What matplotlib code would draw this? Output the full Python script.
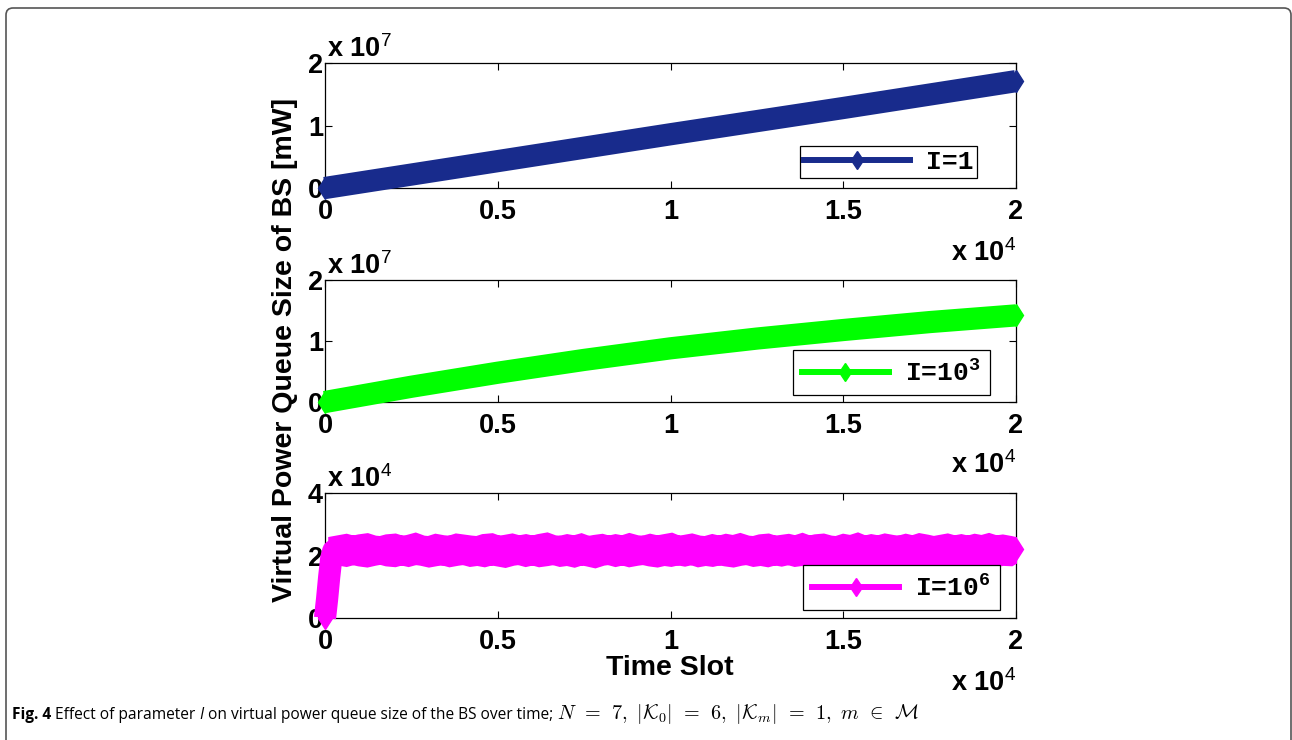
import numpy as np
import matplotlib
matplotlib.use("Agg")
import matplotlib.pyplot as plt
from matplotlib.lines import Line2D
from matplotlib.patches import FancyBboxPatch

plt.rcParams['font.family'] = ['Liberation Sans', 'DejaVu Sans']
plt.rcParams['mathtext.fontset'] = 'custom'
plt.rcParams['mathtext.rm'] = 'Liberation Sans'
plt.rcParams['mathtext.tt'] = 'Liberation Mono:bold'

# ---- data ----
# I = 1 : linear growth, values in units of 1e7 mW
t_i1 = [0, 5000, 10000, 15000, 20000]
q_i1 = [0.0, 0.43, 0.86, 1.28, 1.71]

# I = 10^3 : slightly concave growth, units of 1e7 mW
t_i3 = [0, 2500, 5000, 7500, 10000, 12500, 15000, 17500, 20000]
q_i3 = [0.0, 0.25, 0.48, 0.69, 0.88, 1.04, 1.18, 1.31, 1.42]

# I = 10^6 : fast rise, units of 1e4 mW
t_i6_rise = [0, 60, 120, 180, 240, 300, 400]
q_i6_rise = [0.0, 0.6, 1.3, 1.9, 2.15, 2.18, 2.18]
# then a fast oscillation; upper / lower envelope every 200 slots from slot 400
q_i6_upper = [
    2.31, 2.35, 2.29, 2.34, 2.37, 2.30, 2.28, 2.34, 2.36, 2.29,
    2.32, 2.38, 2.30, 2.28, 2.35, 2.31, 2.29, 2.36, 2.33, 2.30,
    2.28, 2.35, 2.37, 2.29, 2.32, 2.36, 2.30, 2.34, 2.29, 2.35,
    2.39, 2.31, 2.29, 2.34, 2.30, 2.36, 2.28, 2.32, 2.35, 2.29,
    2.34, 2.30, 2.37, 2.31, 2.29, 2.35, 2.30, 2.34, 2.38, 2.29,
    2.32, 2.36, 2.30, 2.28, 2.34, 2.29, 2.35, 2.31, 2.37, 2.30,
    2.28, 2.34, 2.36, 2.29, 2.32, 2.35, 2.30, 2.37, 2.29, 2.34,
    2.36, 2.30, 2.28, 2.35, 2.31, 2.38, 2.29, 2.34, 2.30, 2.36,
    2.32, 2.29, 2.35, 2.30, 2.37, 2.33, 2.28, 2.32, 2.36, 2.30,
    2.34, 2.29, 2.35, 2.31, 2.37, 2.30, 2.33, 2.29, 2.24,
]
q_i6_lower = [
    2.05, 2.01, 2.07, 2.02, 1.99, 2.04, 2.08, 2.02, 2.00, 2.06,
    2.01, 2.07, 2.04, 1.99, 2.03, 2.06, 2.00, 2.04, 2.07, 2.01,
    2.04, 2.00, 2.06, 2.02, 1.98, 2.04, 2.07, 2.01, 2.06, 2.00,
    2.03, 2.07, 2.01, 2.04, 1.99, 2.06, 2.02, 1.97, 2.04, 2.07,
    2.01, 2.06, 2.00, 2.04, 2.07, 2.02, 1.99, 2.04, 2.01, 2.06,
    2.02, 2.07, 2.00, 2.04, 2.01, 2.06, 2.02, 1.99, 2.04, 2.07,
    2.01, 2.04, 2.00, 2.06, 2.02, 2.07, 2.01, 2.04, 1.99, 2.06,
    2.02, 2.00, 2.06, 2.01, 2.04, 2.07, 2.00, 2.03, 2.06, 2.01,
    2.04, 2.00, 2.07, 2.02, 1.99, 2.04, 2.01, 2.06, 2.02, 2.00,
    2.04, 2.07, 2.01, 2.03, 2.06, 2.00, 2.04, 2.03, 2.16,
]
t_i6_env = 400 + 200 * np.arange(len(q_i6_upper))
t_i6_end, q_i6_end = 20000, 2.20

xticks = [0, 5000, 10000, 15000, 20000]
xticklabels = ['0', '0.5', '1', '1.5', '2']

W, H = 1292, 740
fig = plt.figure(figsize=(W / 100, H / 100), dpi=100)

fs_tick = 19.5
fs_lab = 20.5
band_lw = 16
band_ms = 11.5

specs = [
    dict(color='#182b8c', label='I=1', ymax=2e7, yticks=[0, 1e7, 2e7],
         ylabs=['0', '1', '2'], exp='7', rect=[325, 63, 1016, 188],
         leg=(0.944, 0.08), bpad=0.15, hlen=4.0),
    dict(color='#00ff00', label=r'I=10$^{\mathtt{3}}$', ymax=2e7, yticks=[0, 1e7, 2e7],
         ylabs=['0', '1', '2'], exp='7', rect=[325, 280, 1016, 402],
         leg=(0.962, 0.057), bpad=0.35, hlen=3.3),
    dict(color='#ff00ff', label=r'I=10$^{\mathtt{6}}$', ymax=4e4, yticks=[0, 2e4, 4e4],
         ylabs=['0', '2', '4'], exp='4', rect=[325, 493, 1016, 618],
         leg=(0.977, 0.064), bpad=0.35, hlen=3.3),
]

axes = []
for p in specs:
    x0, y0, x1, y1 = p['rect']
    ax = fig.add_axes([x0 / W, 1 - y1 / H, (x1 - x0) / W, (y1 - y0) / H])
    axes.append(ax)
    ax.set_xlim(0, 20000)
    ax.set_ylim(0, p['ymax'])
    ax.set_xticks(xticks)
    ax.set_xticklabels(xticklabels, fontweight='bold')
    ax.set_yticks(p['yticks'])
    ax.set_yticklabels(p['ylabs'], fontweight='bold')
    ax.tick_params(direction='in', length=5, width=0.8, top=True, right=True,
                   labelsize=fs_tick, color='black')
    ax.tick_params(axis='x', pad=8)
    ax.tick_params(axis='y', pad=1.5)
    for s in ax.spines.values():
        s.set_linewidth(0.9)
    ax.text(0.003, 1.048, r'x 10$^{\mathrm{%s}}$' % p['exp'], transform=ax.transAxes,
            ha='left', va='baseline', fontsize=fs_tick, fontweight='bold')
    ax.text(1.0, -0.584, r'x 10$^{\mathrm{4}}$', transform=ax.transAxes,
            ha='right', va='baseline', fontsize=fs_tick, fontweight='bold')

ax1, ax2, ax3 = axes

# panel 1 and 2: thick lines with diamond end markers
ax1.plot(t_i1, np.array(q_i1) * 1e7, color=specs[0]['color'], lw=band_lw,
         solid_capstyle='butt', marker='d', ms=band_ms, markevery=[0, -1],
         clip_on=False, zorder=3)
ax2.plot(t_i3, np.array(q_i3) * 1e7, color=specs[1]['color'], lw=band_lw,
         solid_capstyle='butt', solid_joinstyle='round', marker='d', ms=band_ms,
         markevery=[0, -1], clip_on=False, zorder=3)

# panel 3: rise, then oscillating band
c3 = specs[2]['color']
ax3.plot(t_i6_rise, np.array(q_i6_rise) * 1e4, color=c3, lw=band_lw,
         solid_capstyle='butt', solid_joinstyle='round', marker='d', ms=band_ms,
         markevery=[0], clip_on=False, zorder=3)
ax3.fill_between(t_i6_env, np.array(q_i6_lower) * 1e4, np.array(q_i6_upper) * 1e4,
                 facecolor=c3, edgecolor=c3, lw=band_lw, joinstyle='miter', zorder=3)
ax3.plot([t_i6_end], [q_i6_end * 1e4], color=c3, marker='d', ms=band_ms,
         lw=0, clip_on=False, zorder=4)

for ax, p in zip(axes, specs):
    handle = Line2D([], [], color=p['color'], lw=4.3, marker='d', ms=9.5)
    leg = ax.legend([handle], [p['label']], loc='lower right',
                    bbox_to_anchor=p['leg'], borderaxespad=0, fancybox=False,
                    framealpha=1, edgecolor='black', handlelength=p['hlen'],
                    handletextpad=0.6, borderpad=p['bpad'],
                    prop={'family': 'Liberation Mono', 'weight': 'bold', 'size': 19})
    leg.get_frame().set_linewidth(0.9)
    leg.set_zorder(10)

fig.text(285 / W, 1 - 350 / H, 'Virtual Power Queue Size of BS [mW]',
         rotation=90, ha='center', va='center', fontsize=fs_lab, fontweight='bold')
fig.text(670 / W, 1 - 675 / H, 'Time Slot', ha='center', va='baseline',
         fontsize=fs_lab, fontweight='bold')

# caption, laid out piece by piece
pieces = [
    ('Fig. 4', dict(fontweight='bold', fontsize=11.2)),
    (' Effect of parameter ', dict(fontsize=11.2)),
    ('I', dict(fontstyle='italic', fontsize=11.2)),
    (' on virtual power queue size of the BS over time; ', dict(fontsize=11.2)),
    (r'$N\;\,=\;\,7,\ |\mathcal{K}_0|\;\,=\;\,6,\ |\mathcal{K}_m|\;\,=\;\,1,'
     r'\ m\;\,\in\;\,\mathcal{M}$',
     dict(math_fontfamily='cm', fontsize=14.5)),
]
renderer = fig.canvas.get_renderer()
xpix = 12
for txt, kw in pieces:
    t = fig.text(xpix / W, 1 - 719 / H, txt, ha='left', va='baseline',
                 family=['Open Sans', 'DejaVu Sans'], **kw)
    xpix += t.get_window_extent(renderer).width

box = FancyBboxPatch((0.06, -0.2), 12.85, 7.52,
                     boxstyle='round,pad=0,rounding_size=0.07',
                     transform=fig.dpi_scale_trans, fill=False,
                     edgecolor='#555555', lw=1.2)
fig.patches.append(box)

fig.savefig('out.png', dpi=100)
